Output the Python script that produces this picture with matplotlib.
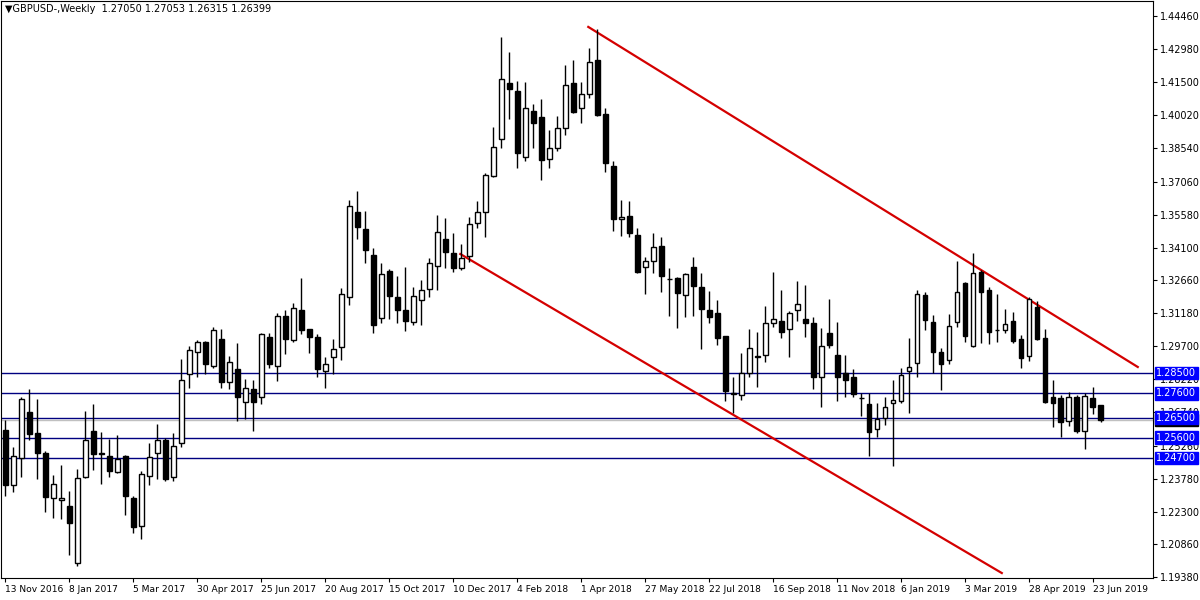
import matplotlib
matplotlib.use("Agg")
import matplotlib.pyplot as plt
import numpy as np
import pandas as pd

start_date = "2016-11-13"
opens = [1.2595,1.2350,1.2470,1.2676,1.2582,1.2493,1.2291,1.2282,1.2256,1.2001,
         1.2385,1.2591,1.2493,1.2479,1.2408,1.2479,1.2291,1.2165,1.2390,1.2493,
         1.2550,1.2385,1.2537,1.2846,1.2944,1.2988,1.2881,1.3002,1.2810,1.2868,
         1.2721,1.2780,1.2743,1.3011,1.2881,1.3105,1.2997,1.3131,1.3047,1.3009,
         1.2859,1.2922,1.2966,1.3190,1.3570,1.3494,1.3378,1.3096,1.3306,1.3190,
         1.3132,1.3078,1.3177,1.3226,1.3329,1.3449,1.3387,1.3320,1.3373,1.3521,
         1.3570,1.3731,1.3896,1.4147,1.4111,1.3816,1.4021,1.3995,1.3807,1.3856,
         1.3945,1.4147,1.4035,1.4097,1.4249,1.4008,1.3776,1.3539,1.3552,1.3467,
         1.3324,1.3351,1.3418,1.3270,1.3275,1.3199,1.3324,1.3235,1.3132,1.3118,
         1.3016,1.2756,1.2752,1.2850,1.2922,1.2931,1.3074,1.3083,1.3047,1.3132,
         1.3092,1.3074,1.2832,1.3029,1.2931,1.2850,1.2832,1.2738,1.2712,1.2600,
         1.2649,1.2716,1.2725,1.2859,1.2895,1.3199,1.3078,1.2944,1.2908,1.3078,
         1.3253,1.2971,1.3302,1.3221,1.3042,1.3042,1.3083,1.3002,1.2926,1.3145,
         1.3007,1.2743,1.2738,1.2636,1.2743,1.2590,1.2738,1.2705]
highs = [1.2640,1.2519,1.2743,1.2779,1.2734,1.2503,1.2394,1.2439,1.2323,1.2421,
         1.2680,1.2712,1.2586,1.2555,1.2573,1.2484,1.2300,1.2412,1.2537,1.2624,
         1.2559,1.2582,1.2913,1.2971,1.2997,1.2993,1.3055,1.3047,1.2926,1.2984,
         1.2823,1.2819,1.3030,1.3030,1.3118,1.3131,1.3163,1.3275,1.3047,1.3025,
         1.2922,1.3002,1.3230,1.3624,1.3664,1.3574,1.3409,1.3342,1.3315,1.3284,
         1.3324,1.3235,1.3266,1.3364,1.3557,1.3543,1.3476,1.3427,1.3548,1.3619,
         1.3744,1.3950,1.4352,1.4285,1.4155,1.4151,1.4053,1.4075,1.3936,1.3999,
         1.4227,1.4249,1.4151,1.4303,1.4388,1.4035,1.3798,1.3624,1.3619,1.3498,
         1.3369,1.3476,1.3458,1.3320,1.3279,1.3297,1.3369,1.3297,1.3217,1.3177,
         1.3016,1.2832,1.2940,1.3047,1.3034,1.3150,1.3302,1.3221,1.3127,1.3261,
         1.3244,1.3101,1.3051,1.3181,1.3078,1.2931,1.2868,1.2761,1.2761,1.2716,
         1.2743,1.2819,1.2873,1.3007,1.3221,1.3212,1.3110,1.2962,1.3114,1.3351,
         1.3257,1.3387,1.3311,1.3235,1.3203,1.3136,1.3123,1.3020,1.3190,1.3172,
         1.3047,1.2819,1.2752,1.2765,1.2752,1.2761,1.2788,1.27053]
lows = [1.2300,1.2318,1.2385,1.2551,1.2376,1.2229,1.2202,1.2198,1.2037,1.1987,
        1.2381,1.2417,1.2354,1.2385,1.2403,1.2215,1.2134,1.2108,1.2349,1.2376,
        1.2367,1.2367,1.2519,1.2784,1.2832,1.2844,1.2873,1.2784,1.2780,1.2636,
        1.2645,1.2591,1.2713,1.2873,1.2814,1.2935,1.2988,1.3025,1.2939,1.2832,
        1.2784,1.2844,1.2908,1.3154,1.3449,1.3342,1.3029,1.3074,1.3092,1.3074,
        1.3038,1.3065,1.3065,1.3190,1.3221,1.3320,1.3302,1.3311,1.3346,1.3498,
        1.3458,1.3726,1.3856,1.3986,1.3767,1.3798,1.3856,1.3713,1.3767,1.3843,
        1.3914,1.4012,1.3968,1.4079,1.3999,1.3749,1.3485,1.3463,1.3458,1.3297,
        1.3203,1.3297,1.3212,1.3105,1.3051,1.3101,1.3105,1.2958,1.3074,1.2975,
        1.2725,1.2671,1.2730,1.2832,1.2788,1.2899,1.3056,1.3007,1.2922,1.3083,
        1.3011,1.2779,1.2698,1.2962,1.2725,1.2743,1.2743,1.2658,1.2479,1.2564,
        1.2618,1.2435,1.2716,1.2671,1.2832,1.3042,1.2850,1.2774,1.2890,1.3056,
        1.2989,1.2966,1.2984,1.2980,1.2989,1.3029,1.2984,1.2873,1.2904,1.2998,
        1.2716,1.2609,1.2564,1.2613,1.2582,1.2511,1.2667,1.26315]
closes = [1.2350,1.2479,1.2734,1.2578,1.2493,1.2296,1.2354,1.2291,1.2180,1.2381,
          1.2551,1.2488,1.2490,1.2412,1.2466,1.2300,1.2161,1.2399,1.2475,1.2550,
          1.2376,1.2525,1.2819,1.2953,1.2988,1.2890,1.3042,1.2810,1.2899,1.2743,
          1.2783,1.2721,1.3025,1.2890,1.3105,1.3002,1.3141,1.3042,1.3009,1.2868,
          1.2890,1.2957,1.3203,1.3597,1.3503,1.3400,1.3065,1.3293,1.3194,1.3132,
          1.3083,1.3194,1.3221,1.3342,1.3481,1.3391,1.3320,1.3364,1.3516,1.3570,
          1.3735,1.3860,1.4164,1.4120,1.3834,1.4035,1.3968,1.3802,1.3856,1.3945,
          1.4138,1.4017,1.4097,1.4240,1.4003,1.3789,1.3539,1.3548,1.3476,1.3302,
          1.3351,1.3413,1.3284,1.3270,1.3208,1.3293,1.3239,1.3136,1.3101,1.3007,
          1.2770,1.2761,1.2850,1.2962,1.2926,1.3074,1.3092,1.3034,1.3118,1.3159,
          1.3074,1.2832,1.2971,1.2975,1.2832,1.2819,1.2756,1.2738,1.2587,1.2645,
          1.2698,1.2730,1.2841,1.2877,1.3203,1.3087,1.2944,1.2890,1.3060,1.3212,
          1.3016,1.3297,1.3212,1.3034,1.3042,1.3069,1.2993,1.2917,1.3181,1.3002,
          1.2721,1.2716,1.2631,1.2743,1.2590,1.2747,1.2698,1.26399]

level_prices = [1.2850, 1.2760, 1.2650, 1.2560, 1.2470]
current_price = 1.26399
axis_ticks = [1.44460,1.42980,1.41500,1.40020,1.38540,1.37060,1.35580,1.34100,1.32660,
              1.31180,1.29700,1.28220,1.26740,1.25260,1.23780,1.22300,1.20860,1.19380]
upper_trend_x = [72.9, 141.6]
upper_trend_y = [1.4397, 1.2877]
lower_trend_x = [56.9, 124.6]
lower_trend_y = [1.3382, 1.1956]
title_text = "GBPUSD-,Weekly  1.27050 1.27053 1.26315 1.26399"

n = len(closes)
dates = pd.date_range(start_date, periods=n, freq="7D")
x = np.arange(n)
o = np.array(opens); h = np.array(highs); l = np.array(lows); c = np.array(closes)

plt.rcParams['font.family'] = ['DejaVu Sans']
fig = plt.figure(figsize=(12, 6), dpi=100)
ax = fig.add_axes([0.001, 0.0367, 0.9598, 0.9617])
ax.set_ylim(1.19339, 1.45130)
ax.set_xlim(-0.5, 143.5)

for lp in level_prices:
    ax.axhline(lp, color="#000080", lw=1, zorder=1)
ax.axhline(current_price, color="#C0C0C0", lw=1, zorder=1)

ax.plot(upper_trend_x, upper_trend_y, color="#D40000", lw=1.6, zorder=2)
ax.plot(lower_trend_x, lower_trend_y, color="#D40000", lw=1.6, zorder=2)

ax.vlines(x, l, h, color="black", lw=1, zorder=3)
bull = c >= o
bottoms = np.minimum(o, c)
heights = np.maximum(np.abs(c - o), 0.00005)
ax.bar(x[bull], heights[bull], bottom=bottoms[bull], width=0.62,
       facecolor="white", edgecolor="black", linewidth=1, zorder=4)
ax.bar(x[~bull], heights[~bull], bottom=bottoms[~bull], width=0.62,
       facecolor="black", edgecolor="black", linewidth=1, zorder=4)

ax.yaxis.tick_right()
ax.set_yticks(axis_ticks)
ax.set_yticklabels([f"{t:.5f}" for t in axis_ticks], fontsize=7)
ax.tick_params(axis="y", length=3, pad=2)
xt = x[::8]
ax.set_xticks(xt)
ax.set_xticklabels([f"{d.day} {d.strftime('%b %Y')}" for d in dates[::8]],
                   fontsize=6.6, ha="left")
ax.tick_params(axis="x", length=3, pad=2)

trans = ax.get_yaxis_transform()
ax.text(1.003, current_price, f"{current_price:.5f}", transform=trans, fontsize=7,
        color="white", va="center", ha="left",
        bbox=dict(boxstyle="square,pad=0.15", fc="black", ec="black"), zorder=10)
for lp in level_prices:
    ax.text(1.003, lp, f"{lp:.5f}", transform=trans, fontsize=7, color="white",
            va="center", ha="left",
            bbox=dict(boxstyle="square,pad=0.15", fc="#0000FF", ec="#0000FF"), zorder=11)

ax.text(0.003, 0.995, "\u25bc" + title_text, transform=ax.transAxes, fontsize=7,
        va="top", ha="left")

fig.savefig("out.png", dpi=100)
